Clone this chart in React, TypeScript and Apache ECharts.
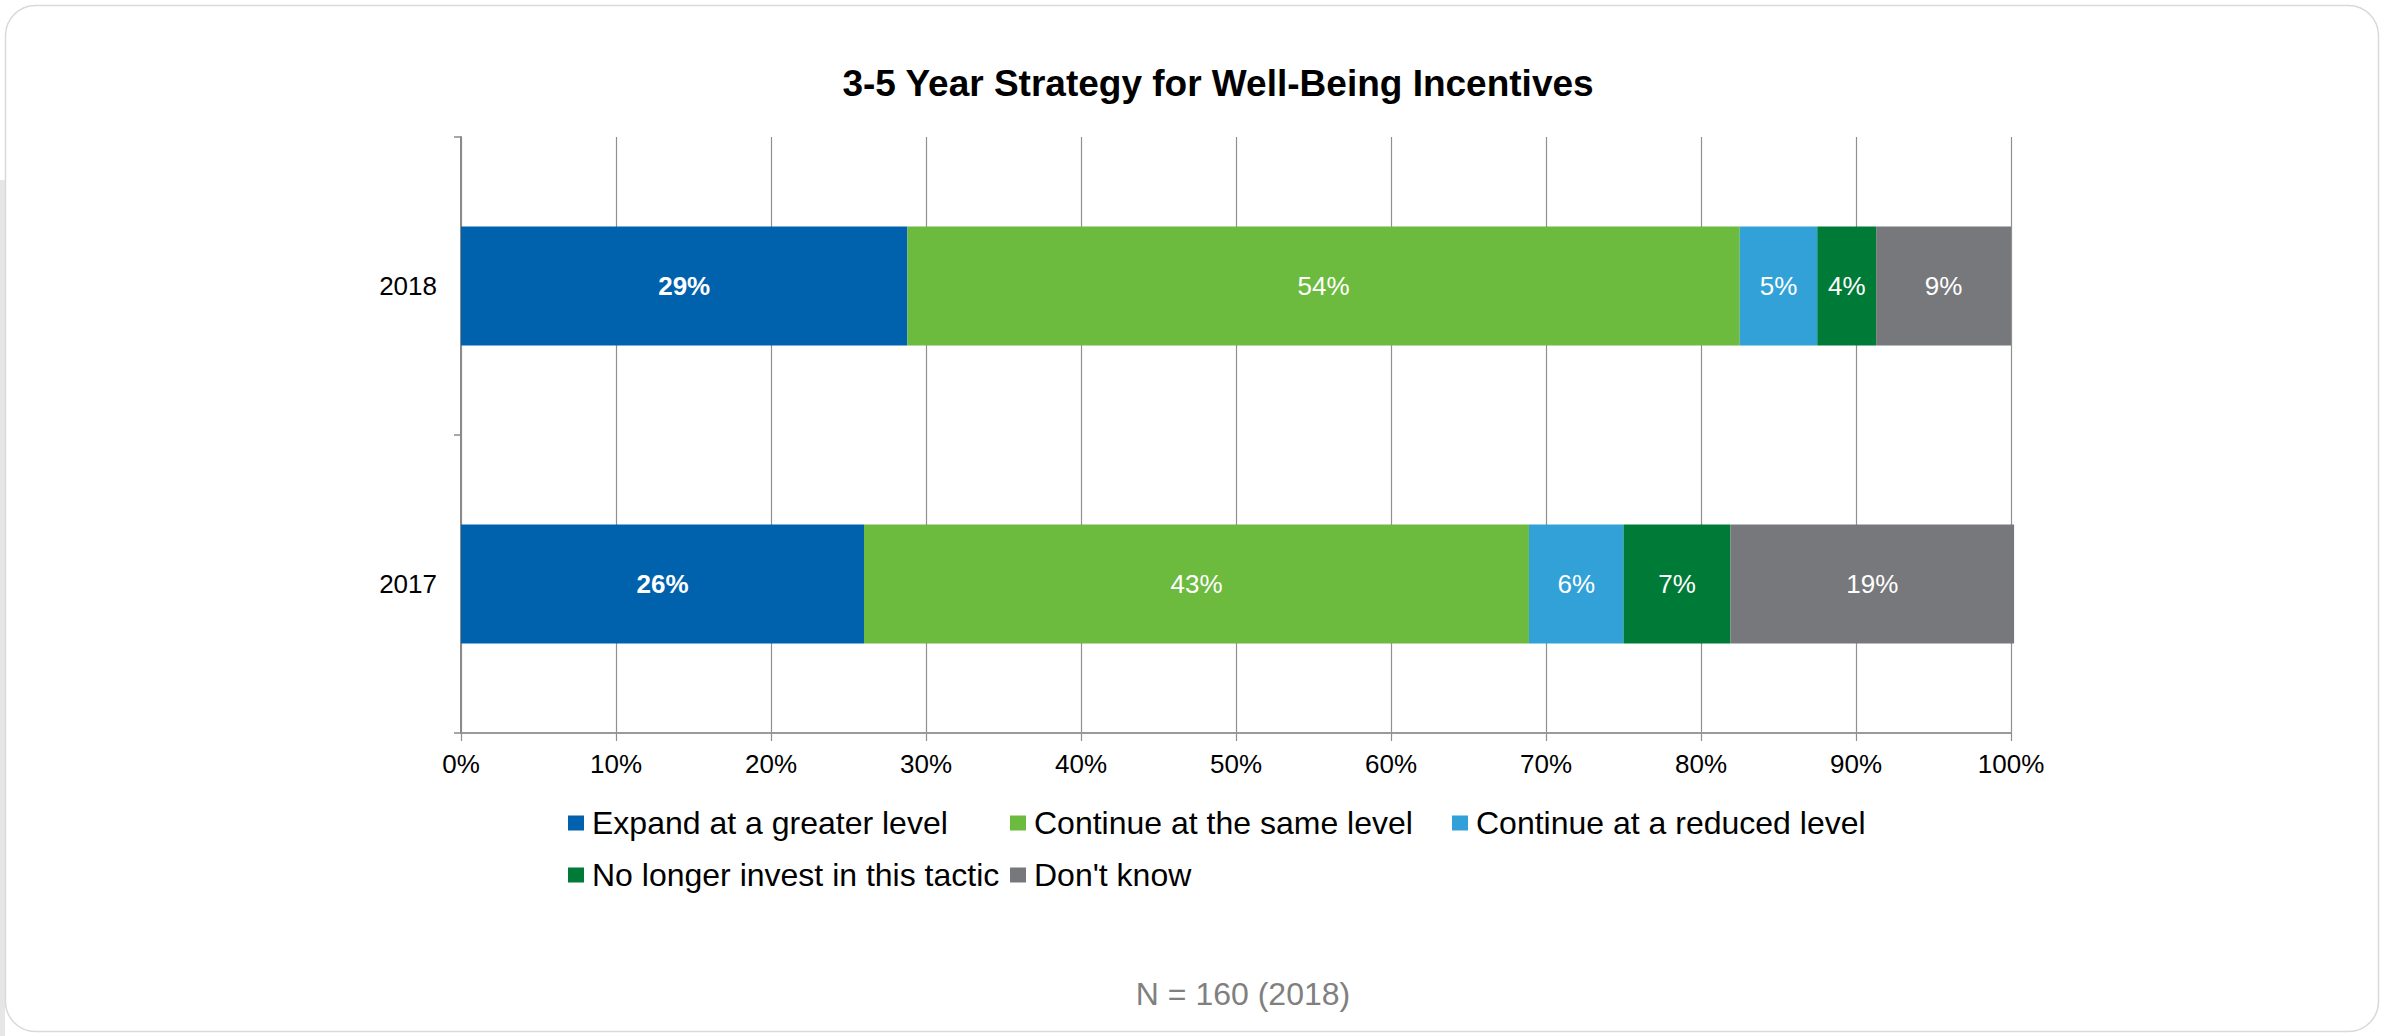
import React, { useEffect, useRef } from "react";
import * as echarts from "echarts";

const categories = ["2018", "2017"];
const seriesNames = [
  "Expand at a greater level",
  "Continue at the same level",
  "Continue at a reduced level",
  "No longer invest in this tactic",
  "Don't know",
];
const expandVals = [28.8, 26.0];
const sameVals = [53.7, 42.9];
const reducedVals = [5.0, 6.1];
const noLongerVals = [3.8, 6.9];
const dontKnowVals = [8.7, 18.3];
// printed data labels (rounded values as shown on the chart)
const expandLabels = [29, 26];
const sameLabels = [54, 43];
const reducedLabels = [5, 6];
const noLongerLabels = [4, 7];
const dontKnowLabels = [9, 19];
const colors = ["#0061AD", "#6CBA3E", "#31A1D8", "#007B37", "#77787B"];
const titleText = "3-5 Year Strategy for Well-Being Incentives";
const footerText = "N = 160 (2018)";

const FONT = "'Liberation Sans', Arial, sans-serif";

export default function App() {
  const ref = useRef<HTMLDivElement>(null);
  useEffect(() => {
    document.body.style.margin = "0";
    if (!ref.current) return;
    const chart = echarts.init(ref.current, undefined, { renderer: "svg" });
    const allVals = [expandVals, sameVals, reducedVals, noLongerVals, dontKnowVals];
    const allLabels = [expandLabels, sameLabels, reducedLabels, noLongerLabels, dontKnowLabels];
    const series = seriesNames.map((name, i) => ({
      name,
      type: "bar",
      stack: "total",
      barWidth: 119,
      clip: false,
      data: allVals[i],
      itemStyle: { color: colors[i] },
      label: {
        show: true,
        position: "inside",
        color: "#ffffff",
        fontSize: 26,
        fontFamily: FONT,
        fontWeight: i === 0 ? "bold" : "normal",
        formatter: (p: any) => allLabels[i][p.dataIndex] + "%",
      },
    }));
    chart.setOption({
      animation: false,
      backgroundColor: "#ffffff",
      grid: { left: 461, right: 370, top: 137, bottom: 303, containLabel: false },
      xAxis: {
        type: "value",
        min: 0,
        max: 100,
        interval: 10,
        axisLine: { show: true, lineStyle: { color: "#9a9a9a", width: 2 } },
        axisTick: { show: true, length: 8, lineStyle: { color: "#8f8f8f", width: 1.2 } },
        splitLine: { show: true, lineStyle: { color: "#8f8f8f", width: 1.2 } },
        axisLabel: {
          formatter: "{value}%",
          fontSize: 26,
          color: "#000000",
          fontFamily: FONT,
          margin: 18,
        },
      },
      yAxis: {
        type: "category",
        data: categories,
        inverse: true,
        axisLine: { show: true, lineStyle: { color: "#8a8a8a", width: 2 } },
        axisTick: { show: true, length: 7, lineStyle: { color: "#8a8a8a", width: 1.5 } },
        axisLabel: { fontSize: 26, color: "#000000", fontFamily: FONT, margin: 24 },
      },
      legend: {
        left: 568,
        top: 800,
        padding: 0,
        width: 1360,
        icon: "rect",
        itemWidth: 16,
        itemHeight: 15,
        itemGap: 6,
        data: seriesNames,
        textStyle: {
          fontSize: 32,
          color: "#000000",
          fontFamily: FONT,
          width: 412,
          lineHeight: 46,
          padding: [0, 0, 0, 3],
        },
      },
      graphic: [
        {
          type: "rect",
          left: 0,
          top: 180,
          shape: { width: 5, height: 856 },
          style: { fill: "#e6e6e6" },
          z: -1,
        },
        {
          type: "rect",
          shape: { x: 5.5, y: 5.5, width: 2373, height: 1026, r: 30 },
          style: { fill: "none", stroke: "#d9d9d9", lineWidth: 1.5 },
          z: 10,
        },
        {
          type: "text",
          x: 1218,
          y: 83,
          style: {
            text: titleText,
            fontSize: 37,
            fontWeight: "bold",
            fontFamily: FONT,
            fill: "#000000",
            textAlign: "center",
            textVerticalAlign: "middle",
          },
        },
        {
          type: "text",
          x: 1243,
          y: 994,
          style: {
            text: footerText,
            fontSize: 32,
            fontFamily: FONT,
            fill: "#808080",
            textAlign: "center",
            textVerticalAlign: "middle",
          },
        },
      ],
      series,
    });
    return () => chart.dispose();
  }, []);
  return <div ref={ref} style={{ width: 2381, height: 1036 }} />;
}
